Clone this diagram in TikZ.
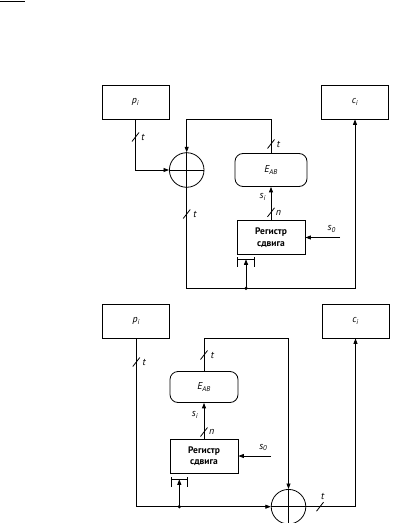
\documentclass[tikz,border=0pt]{standalone}
\usepackage{fontspec}
\setmainfont{PT Sans}
\usetikzlibrary{arrows.meta, positioning}
\tikzstyle{mybox} = [draw, rectangle, line width=0.8pt,
    minimum width=67bp, minimum height=34bp, inner sep=0pt,
    font=\itshape\fontsize{10}{11}\selectfont]
\tikzstyle{myround} = [draw, rectangle, rounded corners=8bp, line width=0.8pt,
    minimum width=70bp, minimum height=33bp, inner sep=0pt,
    font=\itshape\fontsize{10}{11}\selectfont]
\tikzstyle{myreg} = [draw, rectangle, line width=0.8pt,
    minimum width=68bp, minimum height=34bp, inner sep=0pt, align=center,
    font=\bfseries\fontsize{9.5}{11.5}\selectfont]
\tikzstyle{myxor} = [draw, circle, line width=0.8pt, minimum size=34.6bp, inner sep=0pt]
\tikzstyle{mylbl} = [inner sep=0pt, font=\itshape\fontsize{10}{11}\selectfont]
\tikzstyle{wire} = [line width=0.8pt]
\tikzstyle{pijl} = [wire, -{Triangle[length=5.5pt,width=4pt]}]
\newcommand{\busmark}[1]{\draw[wire] (#1) +(-3.5,4.5) -- +(3.5,-4.5);}
\newcommand{\klok}[1]{\draw[wire] (#1) +(-8.3,0) -- +(8.3,0)
    (#1) +(-8.3,-2) -- +(-8.3,7.5) (#1) +(8.3,-2) -- +(8.3,7.5);}

\begin{document}
\begin{tikzpicture}[x=1bp,y=-1bp]
	\useasboundingbox (0,0) rectangle (402,523);
	\draw[line width=1.2pt] (0,1.5) -- (25,1.5);

	% schema 1
	\node[mybox] (pi1) at (135.5,102) {p\textsubscript{i}};
	\node[mybox] (c1) at (355,102) {c\textsubscript{i}};
	\node[myxor] (xor1) at (186.7,170) {};
	\node[myround, minimum width=72bp] (eab1) at (271,170) {E\textsubscript{AB}};
	\node[myreg] (reg1) at (271,237.5) {Регистр\\сдвига};
	\coordinate (s0a) at (340,237.5);
	\coordinate (dot1) at (246,288.3);
	\coordinate (klok1) at (246,259.3);
	\coordinate (hoek1) at (xor1.north |- pi1.south);

	\draw[wire] (xor1.north) -- (xor1.south) (xor1.west) -- (xor1.east);
	\draw[pijl] (pi1.south) |- (xor1.west);
	\draw[pijl] (eab1.north) |- (hoek1) -- (xor1.north);
	\draw[pijl] (reg1.north) -- (eab1.south);
	\draw[pijl] (s0a) -- (reg1.east);
	\draw[pijl] (xor1.south) |- (dot1) -| (c1.south);
	\draw[pijl] (dot1) -- (klok1);
	\fill (dot1) circle (1.8);
	\klok{klok1}

	\coordinate (b1) at (135.5,137);
	\coordinate (b2) at (271,144);
	\coordinate (b3) at (271,212.3);
	\coordinate (b4) at (186.7,214);
	\busmark{b1} \busmark{b2} \busmark{b3} \busmark{b4}
	\node[mylbl] (t1) at (143,137) {t};
	\node[mylbl] (t2) at (278.5,144) {t};
	\node[mylbl] (n1) at (278.5,212.5) {n};
	\node[mylbl] (t3) at (195,214) {t};
	\node[mylbl] (si1) at (262.7,196.7) {s\textsubscript{i}};
	\node[mylbl] (so1) at (331.7,229) {s\textsubscript{0}};

	% schema 2
	\node[mybox] (pi2) at (136.3,321) {p\textsubscript{i}};
	\node[mybox] (c2) at (355.5,321) {c\textsubscript{i}};
	\node[myxor] (xor2) at (288.5,506.7) {};
	\node[myround, minimum width=68bp, minimum height=31bp] (eab2) at (204,387) {E\textsubscript{AB}};
	\node[myreg] (reg2) at (204,456) {Регистр\\сдвига};
	\coordinate (s0b) at (271,456);
	\coordinate (dot2) at (179.3,506.7);
	\coordinate (klok2) at (179.3,479.3);
	\coordinate (hoek2) at (xor2.north |- pi2.south);

	\draw[wire] (xor2.north) -- (xor2.south) (xor2.west) -- (xor2.east);
	\draw[pijl] (pi2.south) |- (xor2.west);
	\draw[pijl] (eab2.north) |- (hoek2) -- (xor2.north);
	\draw[pijl] (reg2.north) -- (eab2.south);
	\draw[pijl] (s0b) -- (reg2.east);
	\draw[pijl] (xor2.east) -| (c2.south);
	\draw[pijl] (dot2) -- (klok2);
	\fill (dot2) circle (1.8);
	\klok{klok2}

	\coordinate (b5) at (136.3,362);
	\coordinate (b6) at (204,355);
	\coordinate (b7) at (204,432);
	\coordinate (b8) at (320,506.7);
	\busmark{b5} \busmark{b6} \busmark{b7} \busmark{b8}
	\node[mylbl] (t4) at (144.3,362) {t};
	\node[mylbl] (t5) at (212.5,355) {t};
	\node[mylbl] (n2) at (211.7,432) {n};
	\node[mylbl] (t6) at (322.7,496.7) {t};
	\node[mylbl] (si2) at (195,415) {s\textsubscript{i}};
	\node[mylbl] (so2) at (263.3,447.7) {s\textsubscript{0}};
\end{tikzpicture}
\end{document}
